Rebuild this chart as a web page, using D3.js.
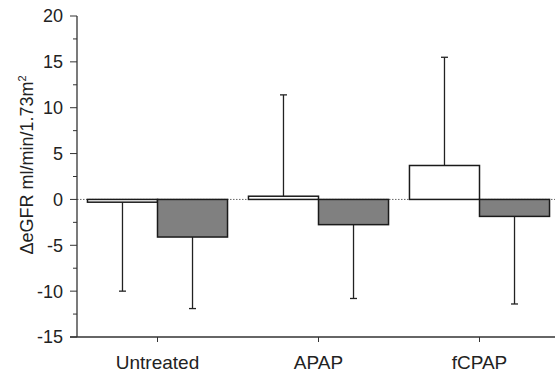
<!DOCTYPE html>
<html>
<head>
<meta charset="utf-8">
<script src="https://cdn.jsdelivr.net/npm/d3@7"></script>
<style>
  html, body { margin: 0; padding: 0; background: #fff; }
  svg { display: block; font-family: Arial, "Liberation Sans", sans-serif; }
</style>
</head>
<body>
<div id="chart"></div>
<script>
// groups and the two series (white = first bar, grey = second bar)
const categories = ['Untreated', 'APAP', 'fCPAP'];
const whiteMeans = [-0.3, 0.35, 3.7];
const whiteErr   = [-10.0, 11.4, 15.5];   // end of one-sided error bar
const greyMeans  = [-4.1, -2.75, -1.85];
const greyErr    = [-11.9, -10.8, -11.4];
const yTicks     = [20, 15, 10, 5, 0, -5, -10, -15];
const yMinor     = [17.5, 12.5, 7.5, 2.5, -2.5, -7.5, -12.5];

const W = 555, H = 376;
const m = { left: 77, top: 16, right: 0, bottom: 39 };

const svg = d3.select('#chart').append('svg')
  .attr('width', W).attr('height', H);

const y = d3.scaleLinear().domain([-15, 20]).range([H - m.bottom, m.top]);
const x = d3.scaleBand().domain(categories).range([m.left, 560])
  .paddingInner(0.13).paddingOuter(0.065);
const half = x.bandwidth() / 2;

const axisCol = '#333';

// dotted zero line
svg.append('line')
  .attr('x1', m.left).attr('x2', W)
  .attr('y1', y(0)).attr('y2', y(0))
  .attr('stroke', '#666').attr('stroke-width', 1)
  .attr('stroke-dasharray', '1.5,1.5');

// bars + error bars
const series = [
  { means: whiteMeans, errs: whiteErr, fill: '#fff', off: 0 },
  { means: greyMeans,  errs: greyErr,  fill: '#808080', off: half }
];

series.forEach(s => {
  const g = svg.append('g');
  // error stems first so the bar edge sits on top
  g.selectAll('line.stem').data(categories).join('line')
    .attr('class', 'stem')
    .attr('x1', (d) => x(d) + s.off + half / 2)
    .attr('x2', (d) => x(d) + s.off + half / 2)
    .attr('y1', (d, i) => y(s.means[i]))
    .attr('y2', (d, i) => y(s.errs[i]))
    .attr('stroke', '#222').attr('stroke-width', 1.3);
  g.selectAll('line.cap').data(categories).join('line')
    .attr('class', 'cap')
    .attr('x1', (d) => x(d) + s.off + half / 2 - 3.5)
    .attr('x2', (d) => x(d) + s.off + half / 2 + 3.5)
    .attr('y1', (d, i) => y(s.errs[i]))
    .attr('y2', (d, i) => y(s.errs[i]))
    .attr('stroke', '#222').attr('stroke-width', 1.3);
  g.selectAll('rect').data(categories).join('rect')
    .attr('x', (d) => x(d) + s.off)
    .attr('width', half)
    .attr('y', (d, i) => y(Math.max(0, s.means[i])))
    .attr('height', (d, i) => Math.abs(y(s.means[i]) - y(0)))
    .attr('fill', s.fill)
    .attr('stroke', '#1a1a1a').attr('stroke-width', 1.5);
});

// y axis
const yAxis = svg.append('g').attr('transform', `translate(${m.left},0)`);
yAxis.append('line')
  .attr('x1', 0).attr('x2', 0)
  .attr('y1', y(20)).attr('y2', y(-15))
  .attr('stroke', axisCol).attr('stroke-width', 1.3);
yAxis.selectAll('line.major').data(yTicks).join('line')
  .attr('class', 'major')
  .attr('x1', -7).attr('x2', 0)
  .attr('y1', d => y(d)).attr('y2', d => y(d))
  .attr('stroke', axisCol);
yAxis.selectAll('line.minor').data(yMinor).join('line')
  .attr('class', 'minor')
  .attr('x1', -4).attr('x2', 0)
  .attr('y1', d => y(d)).attr('y2', d => y(d))
  .attr('stroke', axisCol);
yAxis.selectAll('text').data(yTicks).join('text')
  .attr('x', -14).attr('y', d => y(d))
  .attr('dy', '0.36em')
  .attr('text-anchor', 'end')
  .attr('font-size', 18)
  .attr('fill', '#222')
  .text(d => d);

// x axis
const xAxis = svg.append('g');
xAxis.append('line')
  .attr('x1', m.left - 7).attr('x2', W)
  .attr('y1', y(-15)).attr('y2', y(-15))
  .attr('stroke', axisCol).attr('stroke-width', 1.3);
xAxis.selectAll('line.tick').data(categories).join('line')
  .attr('class', 'tick')
  .attr('x1', d => x(d) + half).attr('x2', d => x(d) + half)
  .attr('y1', y(-15)).attr('y2', y(-15) + 5)
  .attr('stroke', axisCol);
xAxis.selectAll('text').data(categories).join('text')
  .attr('x', d => x(d) + half)
  .attr('y', y(-15) + 32)
  .attr('text-anchor', 'middle')
  .attr('font-size', 19)
  .attr('fill', '#222')
  .text(d => d);

// y label
const lbl = svg.append('text')
  .attr('transform', `translate(33,165) rotate(-90)`)
  .attr('text-anchor', 'middle')
  .attr('font-size', 18)
  .attr('fill', '#222');
lbl.append('tspan').text('ΔeGFR ml/min/1.73m');
lbl.append('tspan').attr('dy', -7).attr('font-size', 11).text('2');
</script>
</body>
</html>
